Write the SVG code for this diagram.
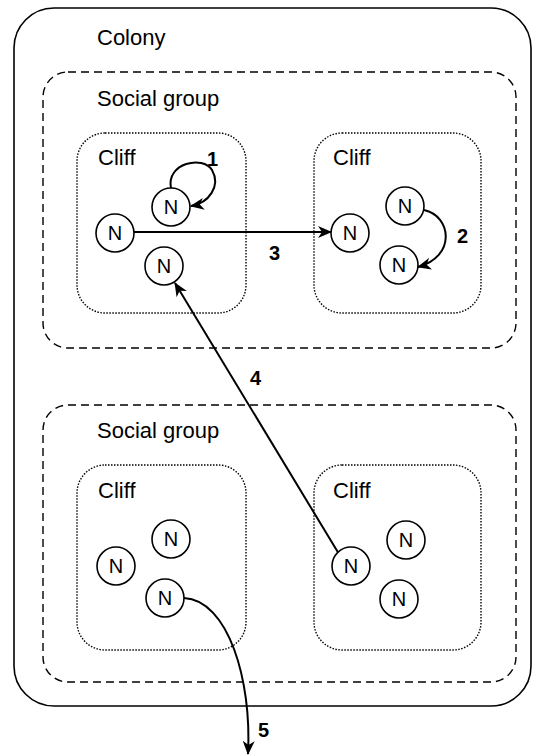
<svg xmlns="http://www.w3.org/2000/svg" width="534" height="756" viewBox="0 0 534 756">
<defs>
<marker id="arr" viewBox="0 0 14 12" refX="13" refY="6" markerWidth="14" markerHeight="12" markerUnits="userSpaceOnUse" orient="auto">
<path d="M0,0 L14,6 L0,12 L4,6 z" fill="#000"/>
</marker>
<style>
text{font-family:"Liberation Sans",Arial,sans-serif;fill:#000}
.lbl{font-size:22px}
.num{font-size:20px;font-weight:bold}
.colony{fill:#fff;stroke:#000;stroke-width:1.6}
.group{fill:none;stroke:#000;stroke-width:1.4;stroke-dasharray:8,5}
.cliff{fill:none;stroke:#000;stroke-width:1.4;stroke-dasharray:1.5,1.5}
.node circle{fill:#fff;stroke:#000;stroke-width:1.6}
.node text{font-size:20px;text-anchor:middle}
.edge{fill:none;stroke:#000;stroke-width:2;marker-end:url(#arr)}
</style>
</defs>
<rect width="534" height="756" fill="#fff"/>
<g id="colony">
<rect class="colony" x="14" y="8" width="517" height="698" rx="40" ry="40"/>
<text class="lbl" x="97" y="45">Colony</text>
</g>
<g id="group1">
<rect class="group" x="43" y="72" width="473" height="276" rx="25" ry="25"/>
<text class="lbl" x="97" y="106">Social group</text>
</g>
<g id="group2">
<rect class="group" x="43" y="405" width="473" height="277" rx="25" ry="25"/>
<text class="lbl" x="97" y="438">Social group</text>
</g>
<g id="cliff1">
<rect class="cliff" x="77" y="133" width="169" height="180" rx="28" ry="28"/>
<text class="lbl" x="98" y="165">Cliff</text>
</g>
<g id="cliff2">
<rect class="cliff" x="314" y="133" width="167" height="180" rx="28" ry="28"/>
<text class="lbl" x="333" y="165">Cliff</text>
</g>
<g id="cliff3">
<rect class="cliff" x="77" y="465" width="169" height="185" rx="28" ry="28"/>
<text class="lbl" x="98" y="498">Cliff</text>
</g>
<g id="cliff4">
<rect class="cliff" x="314" y="465" width="167" height="185" rx="28" ry="28"/>
<text class="lbl" x="333" y="498">Cliff</text>
</g>
<g id="connectors">
<path class="edge" d="M171,188 C166,163 203,155 212,170 C221,186 209,203 191,206"/>
<path class="edge" d="M134,232 L331,232"/>
<path class="edge" d="M424,210 C452,216 456,257 418,267"/>
<path class="edge" d="M339,554 L175,283"/>
<path class="edge" d="M184,598 C228,600 252,680 248,754"/>
<text class="num" x="207" y="166">1</text>
<text class="num" x="457" y="243">2</text>
<text class="num" x="269" y="260">3</text>
<text class="num" x="250" y="385">4</text>
<text class="num" x="258" y="737">5</text>
</g>
<g id="n1" class="node"><circle cx="171" cy="207" r="19"/><text x="171" y="214">N</text></g>
<g id="n2" class="node"><circle cx="115" cy="233" r="19"/><text x="115" y="240">N</text></g>
<g id="n3" class="node"><circle cx="164" cy="266" r="19"/><text x="164" y="273">N</text></g>
<g id="n4" class="node"><circle cx="350" cy="233" r="19"/><text x="350" y="240">N</text></g>
<g id="n5" class="node"><circle cx="405" cy="206" r="19"/><text x="405" y="213">N</text></g>
<g id="n6" class="node"><circle cx="399" cy="265" r="19"/><text x="399" y="272">N</text></g>
<g id="n7" class="node"><circle cx="171" cy="539" r="19"/><text x="171" y="546">N</text></g>
<g id="n8" class="node"><circle cx="116" cy="566" r="19"/><text x="116" y="573">N</text></g>
<g id="n9" class="node"><circle cx="165" cy="598" r="19"/><text x="165" y="605">N</text></g>
<g id="n10" class="node"><circle cx="351" cy="566" r="19"/><text x="351" y="573">N</text></g>
<g id="n11" class="node"><circle cx="406" cy="540" r="19"/><text x="406" y="547">N</text></g>
<g id="n12" class="node"><circle cx="399" cy="599" r="19"/><text x="399" y="606">N</text></g>
</svg>
